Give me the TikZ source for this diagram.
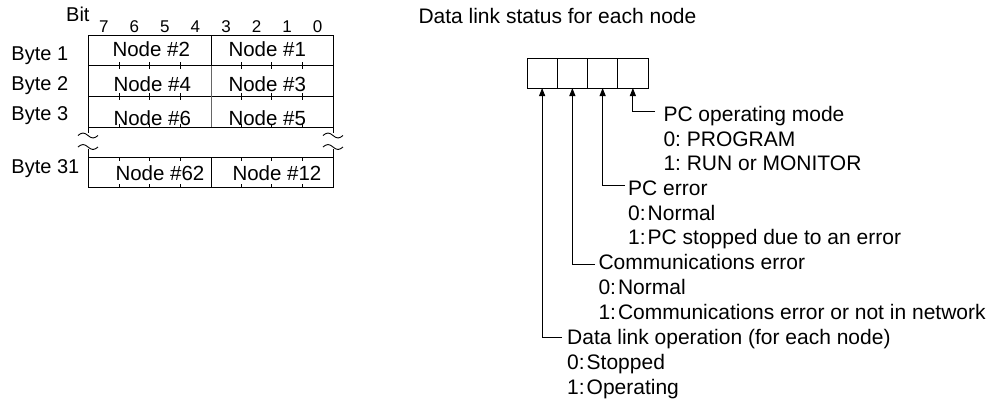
\documentclass[tikz,border=0pt]{standalone}
\usepackage{fontspec}
\setmainfont{Liberation Sans}
\usetikzlibrary{arrows.meta,calc}
\begin{document}
\begin{tikzpicture}[x=1pt,y=-1pt,line width=1pt,
  lbl/.style={anchor=base west,inner sep=0pt,font=\fontsize{20}{24}\selectfont},
  nlbl/.style={anchor=base west,inner sep=0pt,font=\fontsize{20.5}{24}\selectfont},
  rlbl/.style={anchor=base west,inner sep=0pt,font=\fontsize{21}{25}\selectfont},
  dig/.style={anchor=base,inner sep=0pt,font=\fontsize{17}{20}\selectfont},
  cellbox/.style={draw,minimum width=30.25pt,minimum height=30pt,inner sep=0pt,outer sep=0pt},
  arr/.style={-{Triangle[length=8pt,width=6pt]}},
  lightdiv/.style={draw=black!60,line width=0.8pt},
  squig/.style={line width=0.9pt}]
\useasboundingbox (0,0) rectangle (994,400);

% ---------- left table ----------
\node[lbl,anchor=base east] (bit) at (90,21.7) {Bit};
\foreach \d [count=\i from 0] in {7,6,5,4,3,2,1,0}
  \node[dig] (d\i) at (88.5+30.56*\i+15.28,32.5) {\d};

\node[lbl] (b1) at (11,60) {Byte 1};
\node[lbl] (b2) at (11,90) {Byte 2};
\node[lbl] (b3) at (11,120) {Byte 3};
\node[lbl] (b31) at (11,173) {Byte 31};

% frames
\draw (88.5,35) rectangle (333,127);
\draw (88.5,65.5) -- (333,65.5);
\draw (88.5,96.5) -- (333,96.5);
\draw (88.5,157) rectangle (333,187.5);
\draw (211,35) -- (211,65.5);
\draw[lightdiv] (211,65.5) -- (211,127);
\draw (211,157) -- (211,187.5);
% gap edges
\draw (88.5,127) -- (88.5,133);
\draw (88.5,149) -- (88.5,157);
\draw (333,127) -- (333,133);
\draw (333,149) -- (333,157);
% squiggles
\foreach \yy in {135.5,147}{
  \draw[squig] (78,\yy) sin (83,\yy-2.5) cos (88,\yy) sin (93,\yy+2.5) cos (98,\yy);
  \draw[squig] (323,\yy) sin (328,\yy-2.5) cos (333,\yy) sin (338,\yy+2.5) cos (343,\yy);
}
% ticks
\foreach \i in {1,2,3,5,6,7}{
  \draw (88.5+30.56*\i,62) -- (88.5+30.56*\i,69);
  \draw (88.5+30.56*\i,93) -- (88.5+30.56*\i,100);
  \draw (88.5+30.56*\i,123.5) -- (88.5+30.56*\i,127);
  \draw (88.5+30.56*\i,157) -- (88.5+30.56*\i,160.5);
  \draw (88.5+30.56*\i,184) -- (88.5+30.56*\i,187.5);
}

\node[nlbl] (n2) at (112,56) {Node \#2};
\node[nlbl] (n1) at (228,56) {Node \#1};
\node[nlbl] (n4) at (113,91.5) {Node \#4};
\node[nlbl] (n3) at (228,91.5) {Node \#3};
\node[nlbl] (n6) at (113,125) {Node \#6};
\node[nlbl] (n5) at (228,125) {Node \#5};
\node[nlbl] (n62) at (115,180) {Node \#62};
\node[nlbl] (n12) at (232,180) {Node \#12};

% ---------- right part ----------
\node[rlbl] (title) at (418,23) {Data link status for each node};

\node[cellbox,anchor=north west] (c1) at (527,58) {};
\node[cellbox,anchor=north west] (c2) at (c1.north east) {};
\node[cellbox,anchor=north west] (c3) at (c2.north east) {};
\node[cellbox,anchor=north west] (c4) at (c3.north east) {};

\node[rlbl] (m0) at (663,121.5) {PC operating mode};
\node[rlbl] (m1) at (663,146) {0:\ PROGRAM};
\node[rlbl] (m2) at (663,170.5) {1:\ RUN or MONITOR};

\node[rlbl] (e0) at (627.7,195.5) {PC error};
\node[rlbl] (e1) at (627.7,220) {0:\kern2pt Normal};
\node[rlbl] (e2) at (627.7,244.5) {1:\kern2pt PC stopped due to an error};

\node[rlbl] (k0) at (598,269.5) {Communications error};
\node[rlbl] (k1) at (598,294) {0:\kern2pt Normal};
\node[rlbl] (k2) at (598,319) {1:\kern2pt Communications error or not in network};

\node[rlbl] (o0) at (566.7,344.5) {Data link operation (for each node)};
\node[rlbl] (o1) at (566.7,369.5) {0:\kern2pt Stopped};
\node[rlbl] (o2) at (566.7,394.5) {1:\kern2pt Operating};

\draw[arr] ($(m0.base west)+(-8,-10.5)$) -| (c4.south);
\draw[arr] ($(e0.base west)+(-3,-10.5)$) -| (c3.south);
\draw[arr] ($(k0.base west)+(-3,-5)$) -| (c2.south);
\draw[arr] ($(o0.base west)+(-4.5,-7.5)$) -| (c1.south);
\end{tikzpicture}
\end{document}
